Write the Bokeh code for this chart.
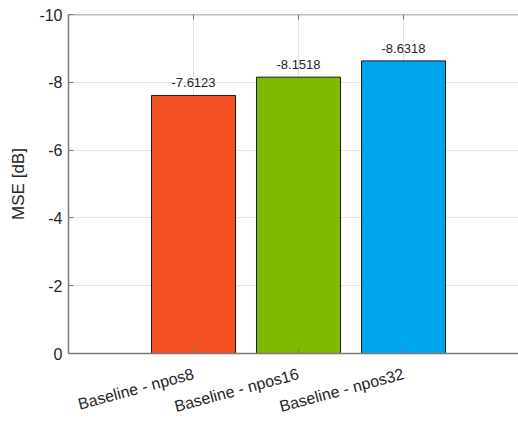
import math
from bokeh.plotting import figure
from bokeh.models import Range1d, FixedTicker, ColumnDataSource, Span
from bokeh.core.properties import value
from bokeh.embed import file_html
from bokeh.resources import INLINE

categories = ["Baseline - npos8", "Baseline - npos16", "Baseline - npos32"]
mse_db = [-7.6123, -8.1518, -8.6318]
bar_colors = ["#F25022", "#7FBA00", "#00A4EF"]
y_ticks = [0, -2, -4, -6, -8, -10]
y_tick_labels = ["0", "-2", "-4", "-6", "-8", "-10"]

xpos = [i + 1 for i in range(len(categories))]
src = ColumnDataSource(dict(x=xpos, top=mse_db, color=bar_colors,
                            label=[f"{v:.4f}" for v in mse_db]))
y_top = y_ticks[-1]
top_src = ColumnDataSource(dict(x=xpos, y=[y_top] * len(xpos)))

FONT = "Liberation Sans"
AXC = "#7a7a7a"
TXT = "#262626"

p = figure(width=518, height=426, output_backend="svg", toolbar_location=None,
           x_range=Range1d(-0.1905, 4.095), y_range=Range1d(0, y_top),
           min_border_left=68, min_border_right=0, min_border_top=14, min_border_bottom=73)
p.outline_line_color = None
p.background_fill_color = "white"
p.border_fill_color = "white"

p.vbar(x="x", top="top", bottom=0, width=0.8, fill_color="color",
       line_color="#1a1a1a", line_width=1, source=src)
p.text(x="x", y="top", text="label", source=src, text_align="center",
       text_baseline="bottom", y_offset=-8, text_font=value(FONT),
       text_font_size="13px", text_color=TXT)

# top box line and inward ticks
p.add_layout(Span(location=y_top, dimension="width", line_color=AXC, line_width=1.5))
p.scatter(x="x", y="y", source=top_src, marker="dash", angle=math.pi / 2,
          size=10, line_color=AXC, line_width=1)

for ax in (p.xaxis[0], p.yaxis[0]):
    ax.axis_line_color = AXC
    ax.axis_line_width = 1.5
    ax.major_tick_line_color = AXC
    ax.major_tick_in = 5
    ax.major_tick_out = 0
    ax.minor_tick_line_color = None
    ax.major_label_text_font = FONT
    ax.major_label_text_color = TXT
    ax.major_label_text_font_size = "16px"

p.xaxis[0].ticker = FixedTicker(ticks=xpos)
p.xaxis[0].major_label_overrides = {x: c for x, c in zip(xpos, categories)}
p.xaxis[0].major_label_orientation = math.radians(15)
p.xaxis[0].major_label_standoff = 20

p.yaxis[0].ticker = FixedTicker(ticks=y_ticks)
p.yaxis[0].major_label_overrides = {t: s for t, s in zip(y_ticks, y_tick_labels)}
p.yaxis[0].axis_label = "MSE [dB]"
p.yaxis[0].axis_label_text_font = FONT
p.yaxis[0].axis_label_text_font_style = "normal"
p.yaxis[0].axis_label_text_font_size = "17px"
p.yaxis[0].axis_label_text_color = TXT
p.yaxis[0].axis_label_standoff = 8
p.yaxis[0].major_label_standoff = 6

p.xgrid.ticker = FixedTicker(ticks=xpos)
p.ygrid.ticker = FixedTicker(ticks=y_ticks)
for g in (p.xgrid[0], p.ygrid[0]):
    g.grid_line_color = "#e3e3e3"
    g.grid_line_width = 1

open("out.html", "w").write(file_html(p, INLINE))
